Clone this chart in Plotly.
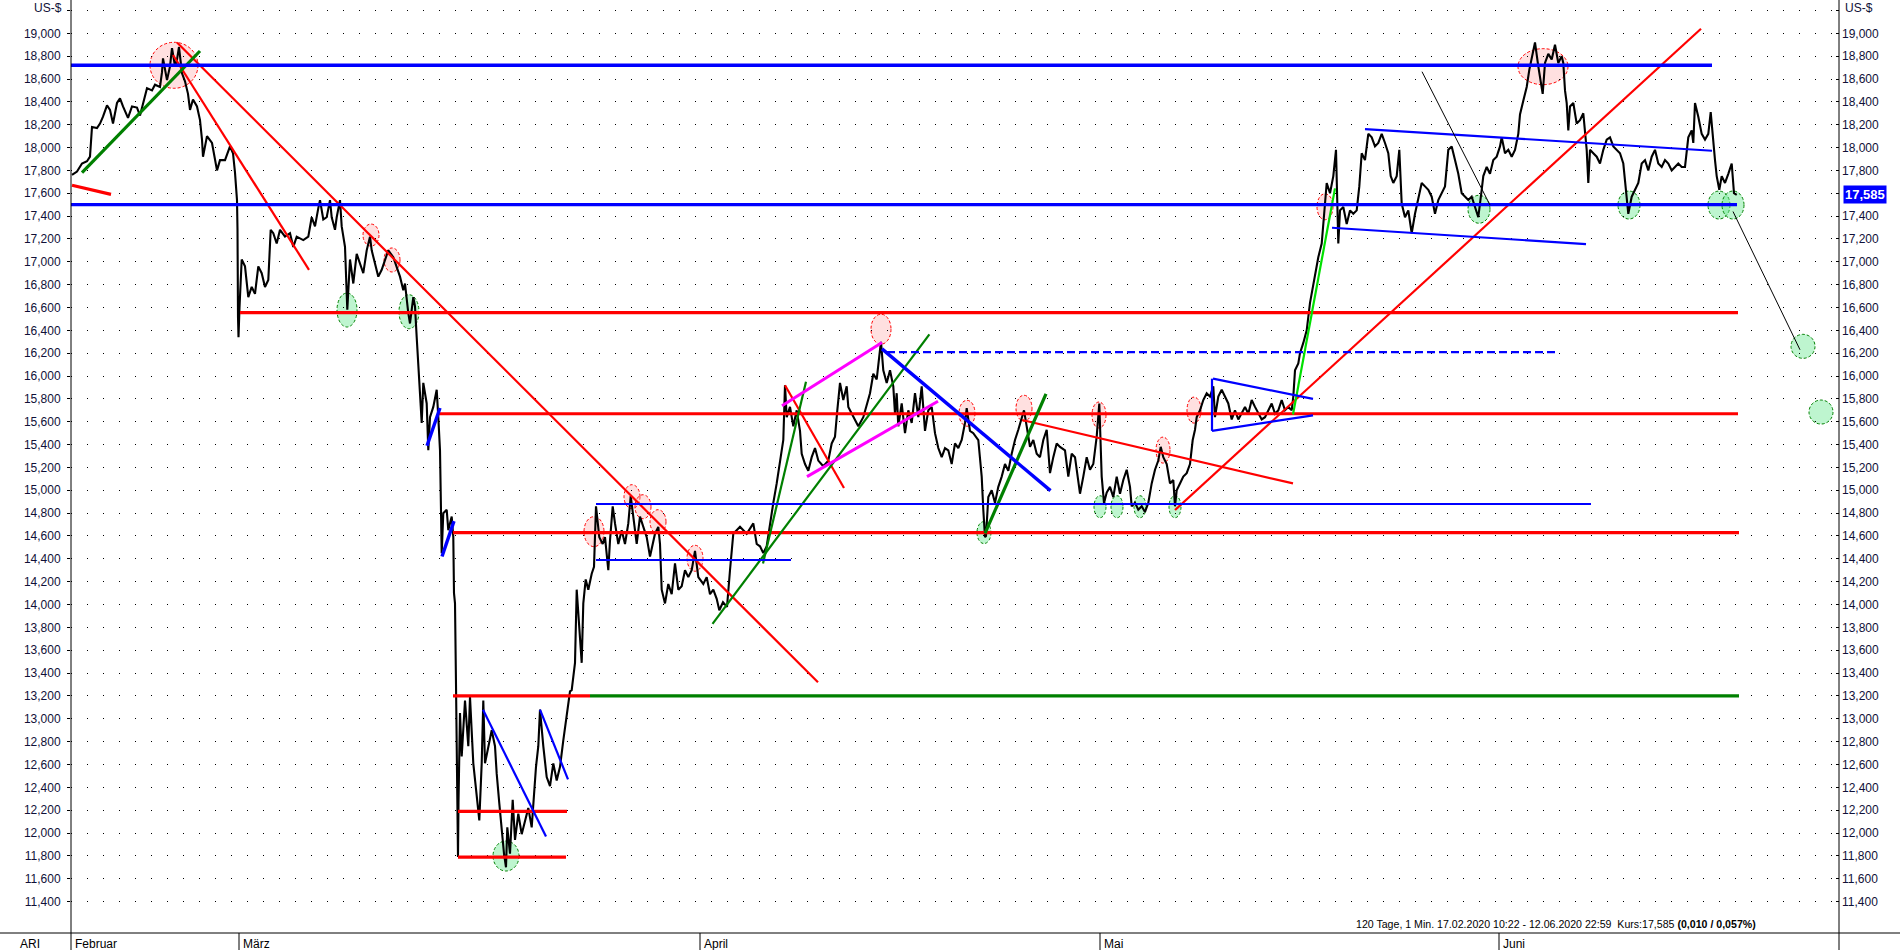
import plotly.graph_objects as go

# ---------------- DATA ----------------
# time axis: chart session index (0 = left edge of the chart, 1768 = right axis)
month_names = ["Februar", "März", "April", "Mai", "Juni"]
month_pos = [0, 168, 629, 1029, 1428]

# price path (session index, US-$)
feb_path = [(1,17.76),(6,17.79),(11,17.86),(16,17.88),(19,17.92),(21,18.18),(26,18.17),(29,18.21),(32,18.27),(36,18.37),
 (39,18.33),(42,18.21),(46,18.39),(49,18.43),(52,18.36),(57,18.26),(61,18.36),(66,18.35),(69,18.28),(76,18.52),(81,18.50),
 (84,18.55),(89,18.53),(91,18.66),(92,18.78),(96,18.59),(99,18.71),(101,18.87),(104,18.71),(106,18.77),(108,18.88),(111,18.65),
 (114,18.58),(117,18.47),(119,18.33),(122,18.42),(126,18.36),(129,18.24),(131,18.07),(132,17.92),(136,18.10),(141,18.04),
 (146,17.80),(149,17.89),(154,17.89),(159,18.01),(162,17.95),(164,17.78),(166,17.54),(166.5,17.28),(167,16.52),(167.5,16.34)]

mar_path = [(168.5,16.60),(170.7,17.02),(174,16.96),(177.3,16.69),(180.7,16.78),(184,16.72),(187.3,16.96),(190.7,16.90),
 (194,16.78),(197.3,16.84),(199.7,17.28),(202.3,17.25),(205.7,17.16),(209,17.28),(214,17.22),(219,17.25),(222.3,17.13),
 (225.7,17.22),(232.3,17.19),(237.3,17.22),(240.7,17.39),(244,17.31),(247.3,17.47),(249,17.54),(252.3,17.37),(255.7,17.39),
 (259,17.54),(260.7,17.39),(264,17.28),(265.7,17.39),(269,17.54),(270.7,17.31),(274,17.13),(275.7,16.69),(276.3,16.58),
 (279,17.02),(282.3,16.81),(285.7,17.07),(289,16.99),(292.3,16.90),(295.7,17.10),(299,17.22),(300.7,17.10),(304,16.99),
 (307.3,16.87),(310.7,16.93),(314,17.02),(317.3,17.10),(322.3,17.04),(325.7,16.96),(329,16.87),(332.3,16.75),(334,16.81),
 (337.3,16.55),(339,16.46),(342.3,16.69),(344,16.61),(345.7,16.34),(347.3,16.11),(349,15.94),(350.7,15.59),(352.3,15.94),
 (355.7,15.76),(357.3,15.35),(359,15.64),(362.3,15.73),(365.7,15.88),(367.3,15.64),(369,15.35),(370.7,14.45),(372.3,14.80),
 (375.7,14.83),(377.3,14.65),(380.7,14.77),(382.3,14.59),(383,14.10),(384,14.01),(385,13.30),(386,12.30),(387,11.79),
 (387.5,12.27),(389,13.05),(390.7,12.67),(394,13.16),(397.3,12.76),(399,13.19),(402.3,12.61),(405.7,12.32),(408.3,12.11),
 (410.7,12.61),(412.3,13.16),(414,12.61),(417.3,12.76),(420.7,12.90),(424,12.76),(425.7,12.52),(428.3,12.26),(430.7,12.03),
 (433,11.82),(435,11.70),(436.3,12.05),(439,11.82),(441.7,12.29),(444,11.94),(447.3,12.17),(450.7,11.99),(454,12.11),
 (457.3,12.22),(460.7,12.05),(463,12.35),(465,12.58),(467.3,12.76),(469,13.08),(472.3,12.76),(475.7,12.49),(479,12.41),
 (482.3,12.61),(485.7,12.46),(489,12.58),(492.3,12.81),(495.7,13.04),(499,13.24),(500.7,13.25),(504,13.49),(505.7,14.13),
 (508.3,13.78),(510.7,13.49),(512.3,14.01),(514.7,14.22),(517.3,14.13)]

apr_path = [(520.7,14.27),(523,14.33),(525,14.86),(528.3,14.59),(531.7,14.53),(534,14.59),(537.3,14.30),(539,14.56),
 (541.7,14.86),(544,14.71),(547.3,14.53),(550.7,14.65),(554,14.53),(557.3,14.71),(559.7,14.95),(562.3,14.77),(565.7,14.53),
 (569,14.77),(572.3,14.68),(575.7,14.59),(579,14.42),(584,14.62),(587.3,14.68),(589,14.53),(590.7,14.13),(594,14.01),
 (597.3,14.18),(600.7,14.09),(604,14.36),(607.3,14.13),(610.7,14.16),(614,14.30),(617.3,14.24),(620.7,14.30),(624,14.47),
 (627.3,14.24),(632.3,14.18),(635.7,14.24),(639,14.09),(642.3,14.13),(645.7,14.05),(648.3,13.95),(652,14.02),(656,13.98),
 (659,14.30),(662.3,14.62),(669,14.68),(675.7,14.62),(682.3,14.71),(685.7,14.53),(689,14.51),(692.3,14.45),(695.7,14.51),
 (699,14.71),(702.3,14.89),(705.7,15.06),(709,15.26),(712.3,15.44),(714,15.92),(715.7,15.64),(719,15.73),(722.3,15.56),
 (725.7,15.70),(729,15.52),(730.7,15.32),(734,15.23),(737.3,15.17),(740.7,15.29),(744,15.37),(747.3,15.26),(752.3,15.21),
 (757.3,15.26),(760.7,15.41),(764,15.47),(766.3,15.70),(769,15.94),(772.3,15.79),(775.7,15.91),(777.3,15.73),(782.3,15.64),
 (787.3,15.56),(792.3,15.64),(795.7,15.76),(799,15.85),(802.3,16.02),(805.7,15.97),(809,16.23),(810,16.30),(812.3,16.05),
 (815.7,15.94),(819,16.05),(822.3,15.91),(824,15.67),(825.7,15.85),(827.3,15.56),(830.7,15.76),(834,15.50),(837.3,15.70),
 (840.7,15.59),(844,15.85),(847.3,15.64),(850.7,15.91),(854,15.52),(857.3,15.70),(860.7,15.73),(864,15.50),(867.3,15.37),
 (870.7,15.29),(874,15.37),(877.3,15.35),(880.7,15.23),(884,15.41),(887.3,15.37),(890.7,15.44),(894,15.59),(895.7,15.72),
 (899,15.52),(902.3,15.50),(907.3,15.44),(910.7,15.12),(912.3,14.83),(914,14.59),(915,14.60),(917.3,14.94),(920.7,15.00),
 (924,14.89),(927.3,15.03),(930.7,15.12),(934,15.23),(937.3,15.17),(940.7,15.32),(944,15.44),(947.3,15.53),(950.7,15.62),
 (953,15.70),(955.7,15.56),(959,15.38),(962.3,15.44),(965.7,15.32),(969,15.29),(972.3,15.44),(975.7,15.53),(979,15.15),
 (982.3,15.29),(985.7,15.41),(989,15.38),(994,15.35),(997.3,15.12),(1000.7,15.32),(1004,15.29),(1009,14.97),(1012.3,15.12),
 (1015.7,15.29),(1019,15.18),(1022.3,15.23),(1025.7,15.47),(1028.3,15.76)]

may_path = [(1030.7,15.12),(1033,14.89),(1035.7,14.98),(1039,15.03),(1042.3,14.94),(1045.7,15.12),(1049,14.97),(1052.3,15.09),
 (1055.7,15.18),(1059,15.03),(1060.7,14.86),(1064,14.89),(1067.3,14.83),(1070.7,14.86),(1074,14.81),(1077.3,14.89),
 (1080.7,15.06),(1084,15.18),(1087.3,15.26),(1089.7,15.38),(1092.3,15.29),(1095.7,15.23),(1099,15.06),(1102.3,15.09),
 (1104,14.86),(1105.7,15.00),(1109,15.06),(1112.3,15.12),(1115.7,15.15),(1119,15.23),(1121.7,15.44),(1124,15.53),
 (1125.7,15.64),(1129,15.70),(1132.3,15.79),(1135.7,15.85),(1139,15.82),(1142.3,15.91),(1144,15.64),(1147.3,15.82),
 (1150.7,15.88),(1154,15.82),(1157.3,15.76),(1160.7,15.62),(1164,15.70),(1167.3,15.62),(1170.7,15.67),(1174,15.73),
 (1177.3,15.67),(1180.7,15.79),(1184,15.73),(1187.3,15.67),(1190.7,15.62),(1194,15.64),(1197.3,15.70),(1200.7,15.76),
 (1204,15.67),(1207.3,15.70),(1210.7,15.79),(1214,15.70),(1217.3,15.73),(1220.7,15.70),(1222.3,15.82),(1224,16.05),
 (1227.3,16.11),(1229,16.20),(1232.3,16.29),(1235.7,16.40),(1239,16.64),(1244,16.87),(1247.3,17.04),(1250.7,17.16),
 (1254,17.48),(1255.7,17.69),(1259,17.60),(1262.3,17.75),(1265,17.98),(1266.3,17.57),(1267.3,17.16),(1269,17.45),
 (1272.3,17.48),(1275.7,17.33),(1279,17.45),(1282.3,17.42),(1285.7,17.45),(1288.3,17.66),(1290.7,17.95),(1294,17.89),
 (1297.3,18.12),(1300.7,18.09),(1304,18.01),(1307.3,18.04),(1310.7,18.12),(1314,18.04),(1317.3,17.95),(1319.7,17.75),
 (1322.3,17.69),(1325.7,17.75),(1328.3,17.98),(1330.7,17.51),(1334,17.39),(1337.3,17.45),(1340.7,17.25),(1344,17.42),
 (1347.3,17.54),(1350.7,17.69),(1354,17.66),(1357.3,17.63),(1360.7,17.57),(1364,17.42),(1367.3,17.54),(1370.7,17.60),
 (1374,17.66),(1377.3,17.98),(1380.7,18.01),(1384,17.89),(1387.3,17.77),(1390.7,17.60),(1394,17.57),(1397.3,17.54),
 (1400.7,17.57),(1404,17.48),(1407.3,17.39),(1410.7,17.63),(1412.3,17.75),(1415.7,17.83),(1419,17.77),(1422.3,17.89),
 (1425.7,17.92)]

jun_path = [(1429,18.01),(1430.7,18.09),(1434,17.95),(1437.3,17.98),(1440.7,17.92),(1444,17.98),(1447.3,18.12),(1449,18.29),
 (1452.3,18.41),(1455.7,18.53),(1458.3,18.68),(1460.7,18.77),(1464,18.92),(1467.3,18.71),(1469.7,18.59),(1471.7,18.47),
 (1474,18.74),(1477.3,18.82),(1480.7,18.77),(1484,18.90),(1487.3,18.74),(1490.7,18.80),(1492.3,18.74),(1494,18.50),
 (1495.7,18.39),(1497.3,18.15),(1499,18.36),(1502.3,18.39),(1505.7,18.21),(1509,18.24),(1512.3,18.30),(1514,18.15),
 (1515.7,17.98),(1517.3,17.69),(1519,17.98),(1522.3,17.95),(1525.7,17.92),(1529,17.86),(1532.3,17.98),(1535.7,18.07),
 (1539,18.09),(1542.3,18.01),(1545.7,17.98),(1549,17.95),(1552.3,17.86),(1555,17.63),(1557.3,17.42),(1560.7,17.57),
 (1564,17.63),(1567.3,17.69),(1570.7,17.86),(1574,17.89),(1577.3,17.80),(1580.7,17.92),(1584,17.98),(1587.3,17.86),
 (1590.7,17.83),(1594,17.89),(1597.3,17.86),(1600.7,17.80),(1604,17.83),(1607.3,17.86),(1610.7,17.83),(1614,17.83),
 (1617.3,18.09),(1620.7,18.15),(1622.3,18.04),(1624,18.39),(1627.3,18.27),(1630.7,18.12),(1634,18.07),(1637.3,18.12),
 (1639.7,18.31),(1641.7,18.09),(1644,17.89),(1645.7,17.75),(1648.3,17.63),(1650.7,17.75),(1654,17.69),(1657.3,17.77),
 (1660.7,17.86),(1663,17.60),(1665.7,17.585)]

last_price = 17.585

# drawn lines (t0, v0, t1, v1), grouped by pen
blue_thick = [(0, 18.72, 1641, 18.72), (0, 17.50, 1666, 17.50), (356, 15.39, 369, 15.72),
              (371, 14.42, 383, 14.73), (811, 16.238, 979.5, 14.997)]
blue_thin = [(525, 14.88, 1520, 14.88), (525, 14.39, 720, 14.39), (412, 13.08, 475, 11.97),
             (469, 13.08, 497, 12.47), (1142, 15.977, 1242, 15.80), (1141, 15.52, 1242, 15.656),
             (1141, 15.977, 1141, 15.52), (1294, 18.162, 1641, 17.972), (1261, 17.298, 1515, 17.155)]
blue_dashed = [(816, 16.21, 1484, 16.21)]
red_thick = [(169, 16.555, 1667, 16.555), (367, 15.67, 1667, 15.67), (382, 14.63, 1668, 14.63),
             (382, 13.20, 519, 13.20), (387, 12.19, 496, 12.19), (387, 11.79, 495, 11.79), (1, 17.67, 40, 17.59)]
red_thin = [(102, 18.81, 238, 16.93), (106, 18.92, 747, 13.32), (714, 15.92, 773, 15.02),
            (951, 15.615, 1222, 15.06), (1104, 14.827, 1630, 19.04)]
green_thick = [(519, 13.20, 1668, 13.20), (11, 17.78, 129, 18.845), (914, 14.623, 975, 15.843)]
green_thin = [(692, 14.36, 735, 15.95), (641.5, 13.83, 858.4, 16.365)]
lime_lines = [(1222, 15.663, 1264, 17.643)]
magenta_lines = [(711, 15.74, 811, 16.294), (736, 15.12, 867, 15.78)]
black_thin = [(1351, 18.664, 1419, 17.497), (1662, 17.44, 1729, 16.23)]

# marked highs / lows (t, v)
pink_marks = [(103, 18.72), (300, 17.234), (321, 17.016), (523, 14.638), (561, 14.944), (572, 14.856),
              (587, 14.725), (624, 14.405), (810, 16.41), (896, 15.674), (953, 15.718), (1028, 15.659),
              (1092, 15.352), (1123, 15.702), (1254, 17.482), (1472, 18.708)]
green_marks = [(276, 16.578), (338, 16.563), (435, 11.799), (913, 14.63), (1029, 14.856), (1046, 14.856),
               (1069, 14.856), (1104, 14.856), (1408, 17.46), (1558, 17.497), (1648, 17.497), (1662, 17.497),
               (1732, 16.26), (1750, 15.685)]

y_ticks = [round(11.4 + 0.2 * i, 1) for i in range(40)]
y_tick_text = [("%.3f" % v).replace(".", ",") if v <= 19.0 else "" for v in y_ticks]
# right axis: the label next to the last-price box is left out
y2_tick_text = [s if abs(v - 17.6) > 1e-6 else "" for v, s in zip(y_ticks, y_tick_text)]

# ---------------- STYLE / LAYOUT ----------------
W, H = 1900, 950
ML, MR, MT, MB = 71, 61, 0, 17
PW, PH = W - ML - MR, H - MT - MB
X_RANGE = [0, 1768]
Y_RANGE = [11.125, 19.2915]
FONT = "Liberation Sans, Arial, sans-serif"

pink_size = [(24, 23), (8, 11), (8, 12), (10, 15), (8, 12), (8, 12), (8, 12), (8, 13), (10, 15), (8, 13),
             (8, 13), (7, 13), (7, 13), (7, 13), (8, 13), (25, 18)]
green_size = [(10, 17), (10, 17), (13, 15), (7, 11), (6, 11), (6, 11), (6, 11), (6, 11), (11, 14), (11, 14),
              (11, 14), (11, 14), (12, 12), (12, 12)]


def px_x(px):
    return (px - ML) / PW


def px_y(py):
    return (H - MB - py) / PH


fig = go.Figure()

price = feb_path + mar_path + apr_path + may_path + jun_path
fig.add_trace(go.Scatter(x=[p[0] for p in price], y=[p[1] for p in price], mode="lines",
                         line=dict(color="black", width=2.1), hoverinfo="skip"))


def add_group(segs, color, width, dash="solid"):
    xs, ys = [], []
    for t0, v0, t1, v1 in segs:
        xs += [t0, t1, None]
        ys += [v0, v1, None]
    fig.add_trace(go.Scatter(x=xs, y=ys, mode="lines", line=dict(color=color, width=width, dash=dash),
                             hoverinfo="skip"))


add_group(red_thin, "#ff0000", 2.2)
add_group(red_thick, "#ff0000", 3.2)
add_group(green_thin, "#008000", 2.2)
add_group(green_thick, "#008000", 3.2)
add_group(lime_lines, "#00e000", 2.2)
add_group(magenta_lines, "#ff00ff", 3)
add_group(blue_thin, "#0000ff", 2.2)
add_group(blue_dashed, "#0000ff", 2.2, "8px,4px")
add_group(blue_thick, "#0000ff", 3.4)
add_group(black_thin, "#000000", 1)

# invisible trace for right axis
fig.add_trace(go.Scatter(x=[0], y=[15], yaxis="y2", mode="markers", marker=dict(opacity=0), hoverinfo="skip"))

shapes = []
for (t, v), (rx, ry) in zip(pink_marks, pink_size):
    shapes.append(dict(type="circle", xref="x", yref="y", xsizemode="pixel", ysizemode="pixel",
                       xanchor=t, yanchor=v, x0=-rx, x1=rx, y0=-ry, y1=ry, layer="below",
                       fillcolor="rgba(255,160,160,0.33)", line=dict(color="#ff0000", width=1, dash="3px,2px")))
for (t, v), (rx, ry) in zip(green_marks, green_size):
    shapes.append(dict(type="circle", xref="x", yref="y", xsizemode="pixel", ysizemode="pixel",
                       xanchor=t, yanchor=v, x0=-rx, x1=rx, y0=-ry, y1=ry, layer="below",
                       fillcolor="rgba(100,230,140,0.42)", line=dict(color="#008000", width=1, dash="3px,2px")))

# frame lines
ybot = -MB / PH
shapes.append(dict(type="line", xref="paper", yref="paper", x0=0, x1=0, y0=ybot, y1=1,
                   line=dict(color="black", width=1), layer="above"))
shapes.append(dict(type="line", xref="paper", yref="paper", x0=1, x1=1, y0=ybot, y1=1,
                   line=dict(color="black", width=1), layer="above"))
shapes.append(dict(type="line", xref="paper", yref="paper", x0=px_x(0), x1=px_x(W), y0=0, y1=0,
                   line=dict(color="black", width=1), layer="above"))
for mp in month_pos[1:]:
    shapes.append(dict(type="line", xref="x", yref="paper", x0=mp, x1=mp, y0=ybot, y1=0,
                       line=dict(color="black", width=1), layer="above"))

annotations = []
for name, mp in zip(month_names, month_pos):
    annotations.append(dict(x=mp + 2, xref="x", y=px_y(944), yref="paper", text=name, showarrow=False,
                            xanchor="left", yanchor="middle", font=dict(family=FONT, size=12, color="black")))
annotations.append(dict(x=px_x(30), xref="paper", y=px_y(944), yref="paper", text="ARI", showarrow=False,
                        xanchor="center", yanchor="middle", font=dict(family=FONT, size=12, color="black")))
annotations.append(dict(x=px_x(64), xref="paper", y=px_y(8), yref="paper", text="US-$", showarrow=False,
                        xanchor="right", yanchor="middle", font=dict(family=FONT, size=12, color="#101038")))
annotations.append(dict(x=px_x(1843), xref="paper", y=px_y(8), yref="paper", text="US-$", showarrow=False,
                        xanchor="left", yanchor="middle", font=dict(family=FONT, size=12, color="#101038")))
annotations.append(dict(x=px_x(1843), xref="paper", y=last_price, yref="y", text="<b>17,585</b>",
                        showarrow=False, xanchor="left", yanchor="middle", bgcolor="#0000ff", borderpad=1,
                        font=dict(family=FONT, size=13, color="white")))
annotations.append(dict(x=px_x(1758), xref="paper", y=px_y(924), yref="paper",
                        text="120 Tage, 1 Min. 17.02.2020 10:22 - 12.06.2020 22:59  Kurs:17,585 <b>(0,010 / 0,057%)</b>",
                        showarrow=False, xanchor="right", yanchor="middle",
                        font=dict(family=FONT, size=10.6, color="black")))

yax_common = dict(range=Y_RANGE, tickmode="array", tickvals=y_ticks,
                  tickfont=dict(family=FONT, size=12, color="#101038"), zeroline=False, showline=False,
                  ticklen=3, tickcolor="black", fixedrange=True)

fig.update_layout(
    width=W, height=H, margin=dict(l=ML, r=MR, t=MT, b=MB, pad=0),
    paper_bgcolor="white", plot_bgcolor="white", showlegend=False,
    separators=",.",
    xaxis=dict(range=X_RANGE, showticklabels=False, showgrid=False, zeroline=False, showline=False,
               ticks="", fixedrange=True),
    yaxis=dict(**yax_common, ticktext=y_tick_text, side="left", ticks="outside", ticklabelstandoff=4,
               showgrid=True, gridcolor="black", gridwidth=1, griddash="1px,15px"),
    yaxis2=dict(**yax_common, ticktext=y2_tick_text, side="right", overlaying="y", ticks="inside",
                ticklabelstandoff=2, showgrid=False),
    shapes=shapes, annotations=annotations,
)

fig.write_html("out.html", config={"displayModeBar": False},
               post_script="document.body.style.margin='0';document.body.style.overflow='hidden';")
